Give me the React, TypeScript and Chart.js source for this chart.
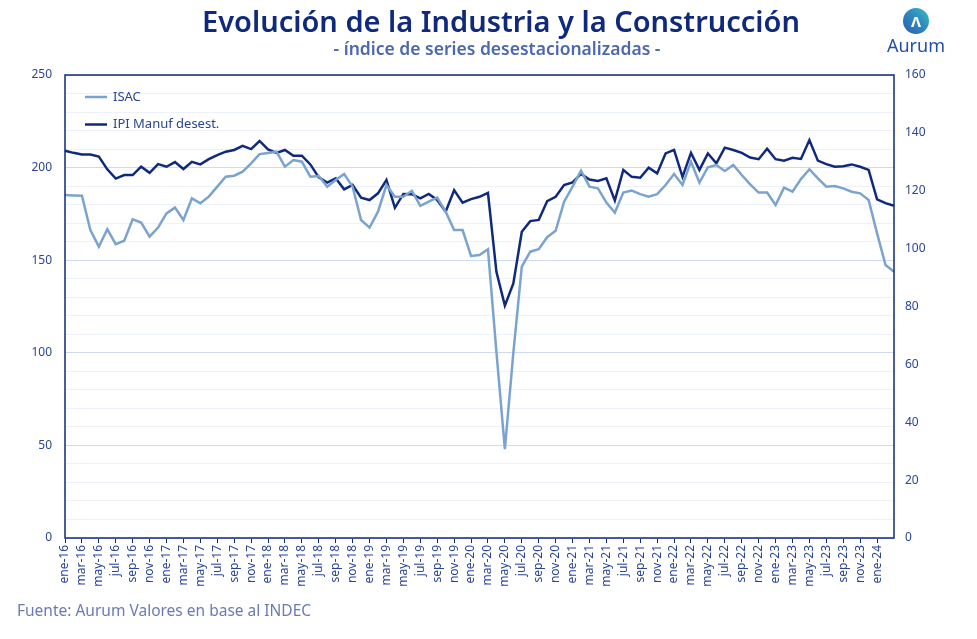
import React, { useEffect, useRef } from "react";
import { Chart, registerables } from "chart.js";

Chart.register(...registerables);

const categories = [
  "ene-16","feb-16","mar-16","abr-16","may-16","jun-16","jul-16","ago-16","sep-16","oct-16","nov-16","dic-16",
  "ene-17","feb-17","mar-17","abr-17","may-17","jun-17","jul-17","ago-17","sep-17","oct-17","nov-17","dic-17",
  "ene-18","feb-18","mar-18","abr-18","may-18","jun-18","jul-18","ago-18","sep-18","oct-18","nov-18","dic-18",
  "ene-19","feb-19","mar-19","abr-19","may-19","jun-19","jul-19","ago-19","sep-19","oct-19","nov-19","dic-19",
  "ene-20","feb-20","mar-20","abr-20","may-20","jun-20","jul-20","ago-20","sep-20","oct-20","nov-20","dic-20",
  "ene-21","feb-21","mar-21","abr-21","may-21","jun-21","jul-21","ago-21","sep-21","oct-21","nov-21","dic-21",
  "ene-22","feb-22","mar-22","abr-22","may-22","jun-22","jul-22","ago-22","sep-22","oct-22","nov-22","dic-22",
  "ene-23","feb-23","mar-23","abr-23","may-23","jun-23","jul-23","ago-23","sep-23","oct-23","nov-23","dic-23",
  "ene-24","feb-24","mar-24",
];

const isac = [
  185.2, 185.0, 184.8, 166.3, 157.3, 166.7, 158.7, 160.5, 172.1, 170.3, 162.7, 167.6,
  175.3, 178.4, 171.7, 183.4, 180.7, 184.3, 189.7, 195.1, 195.6, 197.8, 202.3, 207.3,
  207.9, 208.6, 200.5, 204.1, 203.2, 195.1, 195.5, 189.7, 193.3, 196.5, 189.7, 171.7,
  167.6, 176.2, 190.6, 184.3, 184.3, 187.5, 179.3, 181.6, 183.8, 176.2, 166.3, 166.3,
  152.3, 152.8, 155.9, 100.5, 48.0, 100.0, 146.5, 154.6, 155.9, 162.4, 165.9, 181.6,
  189.7, 198.3, 189.7, 188.8, 181.1, 175.7, 186.5, 187.6, 185.7, 184.3, 185.7, 190.6,
  196.5, 190.6, 203.2, 191.9, 200.2, 201.4, 198.2, 201.4, 196.0, 191.0, 186.5, 186.5,
  179.8, 189.2, 187.0, 193.8, 199.1, 194.2, 189.7, 190.1, 188.8, 187.0, 186.1, 182.5,
  164.5, 147.4, 143.8,
];

const ipiManuf = [
  133.8, 133.1, 132.5, 132.5, 131.8, 127.4, 124.2, 125.4, 125.4, 128.3, 126.2, 129.2,
  128.3, 129.9, 127.5, 130.0, 129.1, 130.9, 132.3, 133.5, 134.1, 135.5, 134.4, 137.2,
  134.3, 133.1, 134.1, 132.1, 132.1, 129.1, 124.6, 122.8, 124.3, 120.5, 122.0, 117.6,
  116.8, 119.1, 123.7, 114.1, 118.9, 118.8, 117.4, 118.9, 116.8, 112.8, 120.2, 115.9,
  117.1, 117.9, 119.3, 92.0, 80.3, 88.0, 105.8, 109.5, 109.9, 116.4, 117.9, 122.0,
  122.9, 125.8, 123.9, 123.4, 124.3, 116.6, 127.2, 124.8, 124.5, 128.0, 126.0, 132.9,
  134.1, 124.8, 133.1, 127.2, 132.9, 129.5, 134.9, 134.1, 133.1, 131.5, 130.9, 134.5,
  130.9, 130.4, 131.4, 131.0, 137.5, 130.4, 129.2, 128.3, 128.5, 129.1, 128.3, 127.2,
  117.0, 115.7, 114.8,
];

const seriesNames = ["ISAC", "IPI Manuf desest."];
const leftTicks = [0, 50, 100, 150, 200, 250];
const rightTicks = [0, 20, 40, 60, 80, 100, 120, 140, 160];
const lastLabelled = "ene-24";

const NAVY = "#0f2a7c";
const LIGHT = "#7ba3cf";
const TICK = "#2a4596";
const FONT = "'Noto Sans', sans-serif";

const lastLabelIndex = categories.indexOf(lastLabelled);
const showLabel = (i: number) => i % 2 === 0 && i <= lastLabelIndex;

const legendPlugin = {
  id: "innerLegend",
  afterDraw(chart: any) {
    const { ctx, chartArea } = chart;
    const items = chart.data.datasets;
    ctx.save();
    items.forEach((ds: any, i: number) => {
      const y = chartArea.top + 22 + i * 27.5;
      const x = chartArea.left + 20;
      ctx.strokeStyle = ds.borderColor;
      ctx.lineWidth = 2.5;
      ctx.beginPath();
      ctx.moveTo(x, y);
      ctx.lineTo(x + 22, y);
      ctx.stroke();
      ctx.fillStyle = TICK;
      ctx.font = "13px " + FONT;
      ctx.textBaseline = "middle";
      ctx.textAlign = "left";
      ctx.fillText(ds.label, x + 28, y);
    });
    ctx.restore();
  },
};

const borderPlugin = {
  id: "plotBorder",
  afterDraw(chart: any) {
    const { ctx, chartArea } = chart;
    ctx.save();
    ctx.strokeStyle = NAVY;
    ctx.lineWidth = 1.5;
    ctx.strokeRect(chartArea.left, chartArea.top, chartArea.right - chartArea.left, chartArea.bottom - chartArea.top);
    ctx.restore();
  },
};

function ChartCanvas() {
  const ref = useRef<HTMLCanvasElement | null>(null);
  useEffect(() => {
    if (!ref.current) return;
    const chart = new Chart(ref.current, {
      type: "line",
      data: {
        labels: categories,
        datasets: [
          {
            label: seriesNames[0],
            data: isac,
            borderColor: LIGHT,
            backgroundColor: LIGHT,
            borderWidth: 2.5,
            pointRadius: 0,
            tension: 0,
            yAxisID: "y",
          },
          {
            label: seriesNames[1],
            data: ipiManuf,
            borderColor: NAVY,
            backgroundColor: NAVY,
            borderWidth: 2.5,
            pointRadius: 0,
            tension: 0,
            yAxisID: "y1",
          },
        ],
      },
      options: {
        responsive: false,
        animation: false,
        layout: { padding: { top: 75, left: 0, right: 0, bottom: 0 } },
        plugins: { legend: { display: false }, tooltip: { enabled: false }, title: { display: false } },
        scales: {
          x: {
            type: "category",
            offset: false,
            border: { display: false },
            grid: {
              display: true,
              drawOnChartArea: false,
              drawTicks: true,
              tickLength: 5,
              tickColor: (c: any) => (showLabel(c.index) ? NAVY : "rgba(0,0,0,0)"),
            },
            ticks: {
              autoSkip: false,
              minRotation: 90,
              maxRotation: 90,
              padding: 2,
              color: TICK,
              font: { family: FONT, size: 12 },
              callback: (_v: any, i: number) => (showLabel(i) ? categories[i] : ""),
            },
            afterFit: (s: any) => {
              s.height = 62;
            },
          },
          y: {
            position: "left",
            min: leftTicks[0],
            max: leftTicks[leftTicks.length - 1],
            border: { display: false },
            grid: {
              drawTicks: false,
              color: (c: any) => (c.tick && c.tick.value % 50 === 0 ? "#cfdaf0" : "#edf1fa"),
              lineWidth: 1,
            },
            ticks: {
              stepSize: 10,
              padding: 13,
              color: TICK,
              font: { family: FONT, size: 12 },
              callback: (v: any) => (leftTicks.includes(Number(v)) ? String(v) : ""),
            },
            afterFit: (s: any) => {
              s.width = 65;
            },
          },
          y1: {
            position: "right",
            min: rightTicks[0],
            max: rightTicks[rightTicks.length - 1],
            border: { display: false },
            grid: { drawOnChartArea: false, drawTicks: false },
            ticks: {
              stepSize: 20,
              padding: 11,
              color: TICK,
              font: { family: FONT, size: 12 },
              callback: (v: any) => (rightTicks.includes(Number(v)) ? String(v) : ""),
            },
            afterFit: (s: any) => {
              s.width = 83;
            },
          },
        },
      },
      plugins: [legendPlugin, borderPlugin],
    } as any);
    return () => chart.destroy();
  }, []);
  return <canvas ref={ref} width={977} height={600} style={{ position: "absolute", left: 0, top: 0 }} />;
}

export default function App() {
  return (
    <div
      style={{
        position: "fixed",
        left: 0,
        top: 0,
        width: 977,
        height: 639,
        background: "#ffffff",
        overflow: "hidden",
        fontFamily: FONT,
      }}
    >
      <ChartCanvas />
      <div
        style={{
          position: "absolute",
          left: 501,
          top: 2,
          transform: "translateX(-50%)",
          whiteSpace: "nowrap",
          fontSize: 29,
          fontWeight: 600,
          color: NAVY,
          lineHeight: "38px",
        }}
      >
        Evolución de la Industria y la Construcción
      </div>
      <div
        style={{
          position: "absolute",
          left: 497,
          top: 37,
          transform: "translateX(-50%)",
          whiteSpace: "nowrap",
          fontSize: 17.5,
          fontWeight: 600,
          color: "#4d68b0",
          lineHeight: "22px",
        }}
      >
        - índice de series desestacionalizadas -
      </div>
      <div
        style={{
          position: "absolute",
          left: 903,
          top: 8,
          width: 26,
          height: 26,
          borderRadius: "50%",
          background: "linear-gradient(45deg, #2a5cb4 0%, #2f8fc0 60%, #3cc0c0 100%)",
          display: "flex",
          alignItems: "center",
          justifyContent: "center",
          color: "#ffffff",
          fontSize: 15,
          fontWeight: 700,
          lineHeight: "26px",
        }}
      >
        Λ
      </div>
      <div
        style={{
          position: "absolute",
          left: 916,
          top: 34,
          transform: "translateX(-50%)",
          whiteSpace: "nowrap",
          fontSize: 18,
          color: "#2550a8",
          lineHeight: "22px",
        }}
      >
        Aurum
      </div>
      <div
        style={{
          position: "absolute",
          left: 17,
          top: 599,
          whiteSpace: "nowrap",
          fontSize: 15.5,
          color: "#6b7ab5",
          lineHeight: "22px",
        }}
      >
        Fuente: Aurum Valores en base al INDEC
      </div>
    </div>
  );
}
